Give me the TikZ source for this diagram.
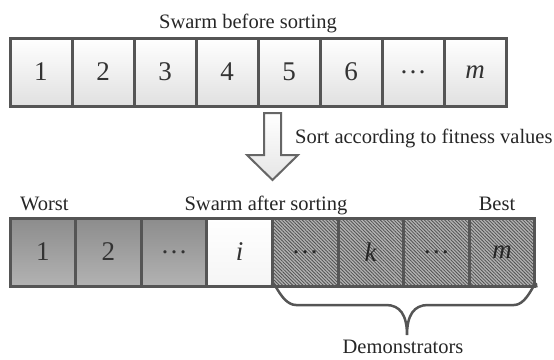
\documentclass[tikz,border=0pt]{standalone}
\usepackage{fontspec}
\setmainfont{Liberation Serif}
\usetikzlibrary{patterns.meta}
\definecolor{edge}{HTML}{555555}
\newcommand{\mydots}{…}
\begin{document}
\begin{tikzpicture}[x=1pt,y=-1pt,
  lbl/.style={font=\fontsize{20.5}{24}\selectfont, text=black!85, inner sep=0pt},
  cellbase/.style={draw=edge, line width=3pt, minimum height=68pt, inner sep=0pt,
    font=\fontsize{27}{30}\selectfont, text=black!80},
  topcell/.style={cellbase, minimum width=62pt, top color=white, bottom color=black!12},
  worstcell/.style={cellbase, minimum width=65.6pt, top color=black!45, bottom color=black!30},
  midcell/.style={cellbase, minimum width=65.6pt, top color=white, bottom color=black!4},
  democell/.style={cellbase, minimum width=65.6pt, preaction={fill=black!30},
    pattern={Lines[angle=-45,distance=2.4pt,line width=0.8pt]}, pattern color=black!68, text=black!85},
  bigarrow/.style={draw=black!60, line width=2pt, top color=white, bottom color=black!10},
  bracepath/.style={draw=edge, line width=2.5pt}
]
\useasboundingbox (0,0) rectangle (554,359);

% top row
\foreach \t [count=\i] in {1,2,3,4,5,6,\mydots,\textit{m}}{
  \node[topcell] (t\i) at ({10+62*(\i-0.5)},72) {\t};
}
\node[lbl, anchor=base] (title) at (248,28) {Swarm before sorting};

% sorting arrow
\draw[bigarrow] (264,113) -- (281,113) -- (281,155) -- (298,155) -- (272.5,180) -- (247,155) -- (264,155) -- cycle;
\node[lbl, anchor=base west] (sortlbl) at (295,143) {Sort according to fitness values};

% bottom row
\node[worstcell] (b1) at ({10+65.6*0.5},252) {1};
\node[worstcell] (b2) at ({10+65.6*1.5},252) {2};
\node[worstcell] (b3) at ({10+65.6*2.5},252) {\mydots};
\node[midcell]   (b4) at ({10+65.6*3.5},252) {\textit{i}};
\node[democell]  (b5) at ({10+65.6*4.5},252) {\mydots};
\node[democell]  (b6) at ({10+65.6*5.5},252) {\textit{k}};
\node[democell]  (b7) at ({10+65.6*6.5},252) {\mydots};
\node[democell]  (b8) at ({10+65.6*7.5},252) {\textit{m}};

\node[lbl, anchor=base west] (worst) at (20,210) {Worst};
\node[lbl, anchor=base] (after) at (266,210) {Swarm after sorting};
\node[lbl, anchor=base] (best) at (497,210) {Best};

% brace
\coordinate (bl) at (b5.south west);
\coordinate (br) at (b8.south east);
\coordinate (tip) at (407,335);
\draw[bracepath] (bl) .. controls ([yshift=14]bl) and (280,305) .. (296,305)
  -- (386,305) .. controls (400,305) and (407,315) .. (tip)
  .. controls (407,315) and (414,305) .. (428,305)
  -- (514,305) .. controls (529,305) and ([yshift=14]br) .. (br);
\node[lbl, anchor=base] (demo) at (403,353) {Demonstrators};
\end{tikzpicture}
\end{document}
